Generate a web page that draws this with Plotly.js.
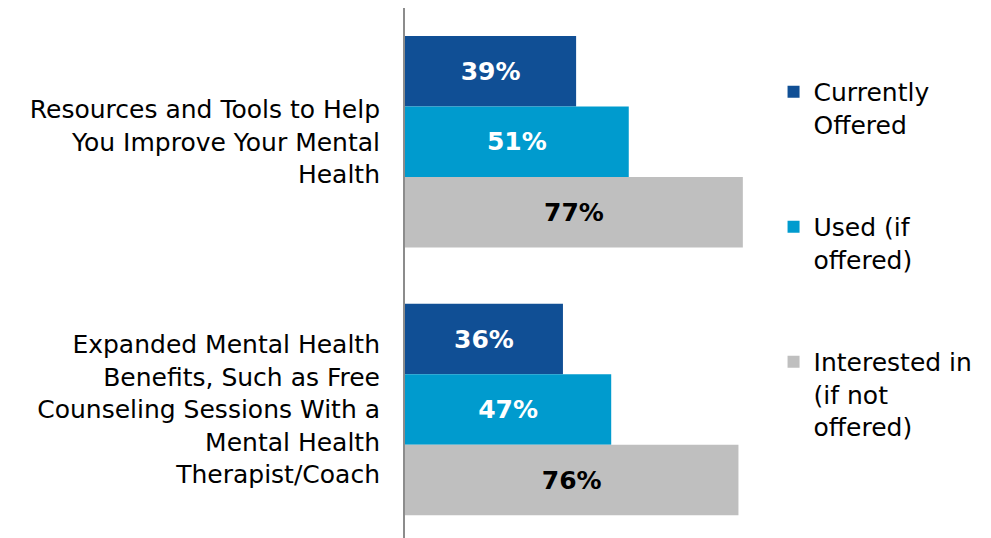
<!DOCTYPE html>
<html>
<head>
<meta charset="utf-8">
<script src="https://cdn.plot.ly/plotly-3.0.1.min.js"></script>
<style>html,body{margin:0;padding:0;background:#fff;}#chart{width:991px;height:538px;}</style>
</head>
<body>
<div id="chart"></div>
<script>
const categories = [
  "Resources and Tools to Help<br>You Improve Your Mental<br>Health",
  "Expanded Mental Health<br>Benefits, Such as Free<br>Counseling Sessions With a<br>Mental Health<br>Therapist/Coach"
];
const seriesNames = ["Currently<br>Offered", "Used (if<br>offered)", "Interested in<br>(if not<br>offered)"];
const currentlyOffered = [39, 36];
const usedIfOffered = [51, 47];
const interestedIfNotOffered = [77, 76];
const seriesColors = ["#104F95", "#009BCE", "#BFBFBF"];
const textColors = ["#FFFFFF", "#FFFFFF", "#000000"];

const values = [currentlyOffered, usedIfOffered, interestedIfNotOffered];
const traces = values.map((v, i) => ({
  type: "bar",
  orientation: "h",
  name: seriesNames[i],
  legendgroup: "g" + i,
  x: v,
  y: categories,
  marker: {color: seriesColors[i]},
  texttemplate: "%{x}%",
  textposition: "inside",
  insidetextanchor: "middle",
  constraintext: "none",
  textfont: {family: "DejaVu Sans, sans-serif", size: 25, color: textColors[i], weight: "bold"},
  hoverinfo: "skip"
}));

const layout = {
  width: 991,
  height: 538,
  margin: {l: 405, r: 235, t: 8, b: 0},
  paper_bgcolor: "#FFFFFF",
  plot_bgcolor: "#FFFFFF",
  barmode: "group",
  bargap: 0.21,
  bargroupgap: 0,
  font: {family: "DejaVu Sans, sans-serif", color: "#000000"},
  xaxis: {range: [0, 80], visible: false, fixedrange: true},
  yaxis: {
    type: "category",
    range: [1.48, -0.5],
    showline: true,
    linecolor: "#8C8C8C",
    linewidth: 2,
    showgrid: false,
    zeroline: false,
    ticks: "",
    ticklabelstandoff: 18,
    tickfont: {family: "DejaVu Sans, sans-serif", size: 25, color: "#000000"}
  },
  showlegend: true,
  legend: {
    x: 1.05, xanchor: "left",
    y: 0.885, yanchor: "top",
    valign: "top",
    tracegroupgap: 67,
    font: {family: "DejaVu Sans, sans-serif", size: 25, color: "#000000"},
    itemclick: false
  }
};

Plotly.newPlot("chart", traces, layout, {staticPlot: true, displayModeBar: false});
</script>
</body>
</html>
